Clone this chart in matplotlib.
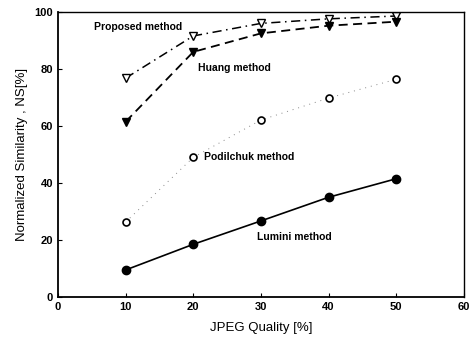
import matplotlib
matplotlib.use("Agg")
import matplotlib.pyplot as plt

plt.rcParams['font.family'] = ['Liberation Sans', 'DejaVu Sans']

quality = [10, 20, 30, 40, 50]
proposed = [76.8, 91.6, 96.0, 97.6, 98.6]
huang = [61.5, 86.0, 92.5, 95.2, 96.6]
podilchuk = [26.3, 49.0, 62.1, 69.8, 76.4]
lumini = [9.5, 18.5, 26.7, 35.0, 41.5]

xticks = [0, 10, 20, 30, 40, 50, 60]
yticks = [0, 20, 40, 60, 80, 100]

fig = plt.figure(figsize=(4.73, 3.43), dpi=100)
ax = fig.add_axes([0.1226, 0.134, 0.858, 0.831])

ax.plot(quality, proposed, color='black', linestyle=(0, (6, 3, 1, 3)), lw=1.1,
        marker='v', markersize=5.5, markerfacecolor='white', markeredgecolor='black', markeredgewidth=1.0)
ax.plot(quality, huang, color='black', linestyle=(0, (5, 3)), lw=1.3,
        marker='v', markersize=5.5, markerfacecolor='black', markeredgecolor='black')
ax.plot(quality, podilchuk, color='#888888', linestyle=(0, (1, 5)), lw=0.7)
ax.plot(quality, podilchuk, linestyle='none', marker='o', markersize=5,
        markerfacecolor='white', markeredgecolor='black', markeredgewidth=1.2)
ax.plot(quality, lumini, color='black', linestyle='-', lw=1.2,
        marker='o', markersize=6, markerfacecolor='black', markeredgecolor='black')

ax.text(11.9, 94.8, 'Proposed method', fontsize=7.5, fontweight='bold', ha='center', va='center')
ax.text(26.1, 80.5, 'Huang method', fontsize=7.5, fontweight='bold', ha='center', va='center')
ax.text(21.6, 49.0, 'Podilchuk method', fontsize=7.5, fontweight='bold', ha='left', va='center')
ax.text(35.0, 21.0, 'Lumini method', fontsize=7.5, fontweight='bold', ha='center', va='center')

ax.set_xlim(0, 60)
ax.set_ylim(0, 100)
ax.set_xticks(xticks)
ax.set_yticks(yticks)
ax.tick_params(direction='in', length=3, width=0.8, labelsize=8)
for lab in ax.get_xticklabels() + ax.get_yticklabels():
    lab.set_fontweight('bold')
for s in ax.spines.values():
    s.set_linewidth(1.0)
ax.spines['left'].set_linewidth(1.3)
ax.spines['bottom'].set_linewidth(1.3)

ax.set_xlabel('JPEG Quality [%]', fontsize=9.5, labelpad=7)
ax.set_ylabel('Normalized Similarity , NS[%]', fontsize=9.5, labelpad=5)

fig.savefig('out.png', dpi=100)
